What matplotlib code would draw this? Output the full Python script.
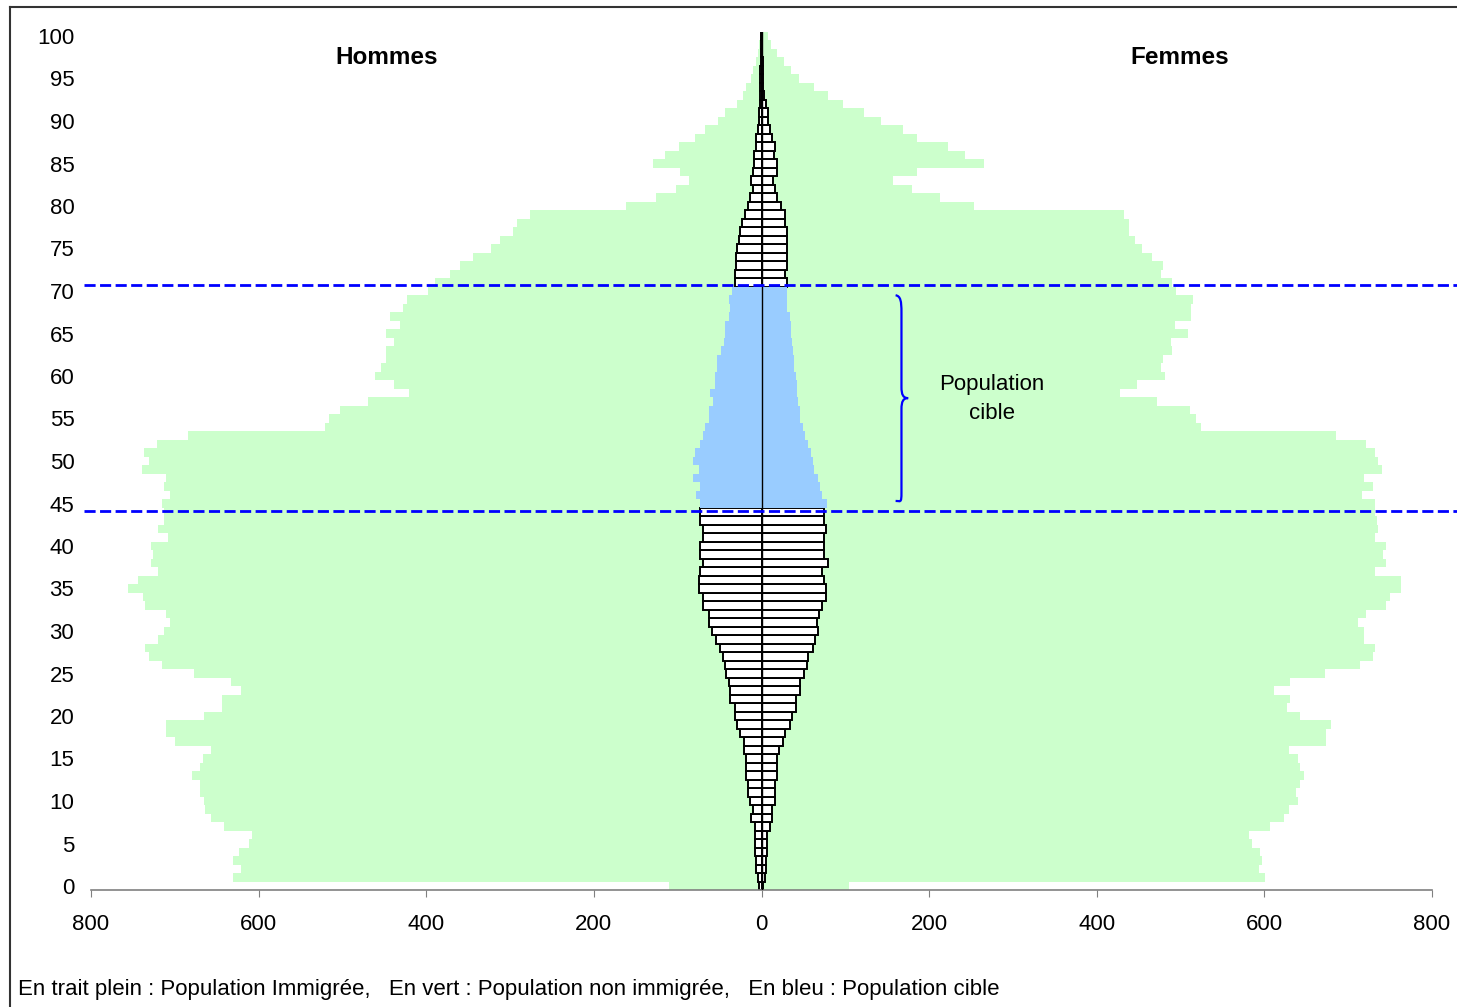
"""
plot.py
Pyramide des ages : population immigree / non immigree / population cible
"""

import numpy as np
import matplotlib
matplotlib.use('Agg')
import matplotlib.pyplot as plt
from matplotlib.path import Path
from matplotlib.patches import PathPatch

plt.rcParams['font.family'] = ['Liberation Sans', 'DejaVu Sans']

# ages 0..100
ages = np.arange(0, 101)

# hommes, population non immigree (vert)
hommes_vert = [110, 631, 621, 631, 624, 612, 608, 641, 657, 664,
               665, 670, 670, 679, 670, 666, 657, 700, 711, 711,
               665, 644, 644, 621, 633, 677, 715, 731, 735, 720,
               713, 706, 711, 736, 738, 756, 744, 720, 728, 726,
               728, 708, 720, 713, 713, 715, 706, 713, 711, 739,
               731, 737, 721, 684, 521, 516, 503, 470, 421, 438,
               461, 454, 448, 448, 438, 448, 431, 443, 428, 423,
               398, 390, 372, 360, 344, 323, 312, 297, 292, 276,
               162, 126, 102, 87, 97, 130, 115, 99, 79, 68,
               52, 43, 29, 22, 18, 12, 10, 6, 4, 3,
               2]

# femmes, population non immigree (vert)
femmes_vert = [104, 601, 593, 597, 595, 585, 582, 607, 623, 629,
               640, 638, 642, 647, 642, 640, 629, 673, 674, 680,
               642, 627, 631, 611, 631, 672, 714, 730, 732, 719,
               719, 712, 721, 745, 750, 763, 763, 732, 745, 741,
               745, 732, 736, 734, 732, 732, 717, 730, 719, 740,
               736, 732, 721, 686, 524, 519, 511, 472, 428, 448,
               482, 477, 479, 490, 488, 509, 493, 513, 513, 515,
               495, 490, 477, 479, 466, 454, 446, 439, 439, 433,
               253, 213, 179, 157, 186, 266, 243, 222, 186, 169,
               142, 122, 97, 79, 63, 45, 35, 27, 19, 11,
               8]

# hommes, population immigree (trait plein)
hommes_immig = [3, 4, 7, 6, 8, 8, 8, 8, 12, 10,
                14, 16, 16, 19, 19, 19, 21, 21, 26, 29,
                32, 32, 37, 37, 39, 42, 44, 46, 50, 54,
                59, 63, 63, 70, 70, 75, 75, 73, 70, 73,
                73, 70, 70, 73, 73, 73, 78, 73, 82, 75,
                82, 79, 73, 70, 68, 63, 63, 58, 62, 55,
                55, 53, 53, 48, 45, 44, 44, 39, 38, 39,
                35, 32, 32, 31, 31, 29, 27, 26, 23, 20,
                16, 14, 10, 12, 10, 9, 9, 6, 6, 4,
                3, 3, 2, 1.5, 1.5, 1.5, 1.5, 1, 1, 1,
                1]

# femmes, population immigree (trait plein)
femmes_immig = [2, 4, 5, 5, 7, 7, 7, 10, 12, 13,
                16, 16, 16, 18, 18, 18, 21, 26, 28, 34,
                36, 41, 41, 46, 46, 51, 54, 56, 61, 64,
                67, 66, 69, 72, 77, 77, 75, 72, 79, 75,
                75, 75, 77, 75, 75, 78, 72, 70, 67, 63,
                62, 59, 56, 52, 49, 46, 46, 44, 42, 42,
                41, 39, 39, 37, 36, 35, 35, 34, 31, 31,
                31, 31, 28, 30, 30, 31, 31, 31, 28, 28,
                23, 18, 16, 14, 18, 18, 15, 16, 12, 10,
                8, 8, 5, 3, 2, 2, 2, 1.5, 1, 1,
                1]

# population cible : 45 a 70 ans
cible_min, cible_max = 45, 70
ligne_bas, ligne_haut = 44.1, 70.7

x_ticks = [-800, -600, -400, -200, 0, 200, 400, 600, 800]
x_labels = ['800', '600', '400', '200', '0', '200', '400', '600', '800']
y_ticks = list(range(0, 101, 5))

vert = '#CCFFCC'
bleu = '#99CCFF'

hv = -np.array(hommes_vert, dtype=float)
fv = np.array(femmes_vert, dtype=float)
hi = -np.array(hommes_immig, dtype=float)
fi = np.array(femmes_immig, dtype=float)
cible = (ages >= cible_min) & (ages <= cible_max)

fig = plt.figure(figsize=(14.57, 10.07), dpi=100)
ax = fig.add_axes([91 / 1457, 1 - 890.25 / 1007, 1341 / 1457, 858.5 / 1007])

# vert : non immigres
ax.barh(ages, hv, height=1.0, color=vert, linewidth=0)
ax.barh(ages, fv, height=1.0, color=vert, linewidth=0)

# trait plein : immigres (hors population cible)
ax.barh(ages[~cible], hi[~cible], height=1.0, color='white', edgecolor='black', linewidth=1.4)
ax.barh(ages[~cible], fi[~cible], height=1.0, color='white', edgecolor='black', linewidth=1.4)

# bleu : population cible
ax.barh(ages[cible], hi[cible], height=1.0, color=bleu, linewidth=0)
ax.barh(ages[cible], fi[cible], height=1.0, color=bleu, linewidth=0)

ax.axvline(0, color='black', lw=1.0, zorder=3)

# lignes pointillees
for yl in (ligne_bas, ligne_haut):
    ax.plot([-808, 840], [yl, yl], color='#0000FF', lw=2, dashes=(4, 1.6),
            clip_on=False, zorder=4)

# accolade "Population cible"
verts = [(160, 69.5), (166, 69.4), (167, 68.8), (167, 67.5),
         (167, 58.7),
         (167, 57.8), (169, 57.4), (175, 57.4),
         (169, 57.4), (167, 57.0), (167, 56.1),
         (167, 46.3),
         (167, 45.0), (166, 45.3), (160, 45.3)]
codes = [Path.MOVETO, Path.CURVE4, Path.CURVE4, Path.CURVE4,
         Path.LINETO,
         Path.CURVE4, Path.CURVE4, Path.CURVE4,
         Path.CURVE4, Path.CURVE4, Path.CURVE4,
         Path.LINETO,
         Path.CURVE4, Path.CURVE4, Path.CURVE4]
ax.add_patch(PathPatch(Path(verts, codes), facecolor='none', edgecolor='#0000FF', lw=1.6, zorder=4))
ax.text(275, 57.3, 'Population\ncible', ha='center', va='center', fontsize=16, linespacing=1.45)

ax.text(-447, 97.5, 'Hommes', ha='center', va='center', fontsize=17.5, fontweight='bold')
ax.text(499, 97.5, 'Femmes', ha='center', va='center', fontsize=17.5, fontweight='bold')

# axes
ax.set_xlim(-800, 800)
ax.set_ylim(-0.5, 100.5)
ax.set_xticks(x_ticks)
ax.set_xticklabels(x_labels)
ax.set_yticks(y_ticks)
ax.tick_params(axis='x', direction='out', length=5, color='#808080', labelsize=16, pad=12)
ax.tick_params(axis='y', length=0, labelsize=16, pad=12)
for s in ('top', 'right', 'left'):
    ax.spines[s].set_visible(False)
ax.spines['bottom'].set_color('#808080')
ax.spines['bottom'].set_linewidth(1.2)

# legende en bas
fig.text(18 / 1457, 1 - 990 / 1007,
         'En trait plein : Population Immigrée,   En vert : Population non immigrée,   En bleu : Population cible',
         ha='left', va='center', fontsize=16)

# cadre du graphique (bord gauche et haut)
fig.add_artist(plt.Line2D([10 / 1457, 10 / 1457], [0, 1 - 7 / 1007], color='#333333', lw=1.5))
fig.add_artist(plt.Line2D([10 / 1457, 1], [1 - 7 / 1007, 1 - 7 / 1007], color='#333333', lw=1.5))

fig.savefig('out.png', dpi=100)
